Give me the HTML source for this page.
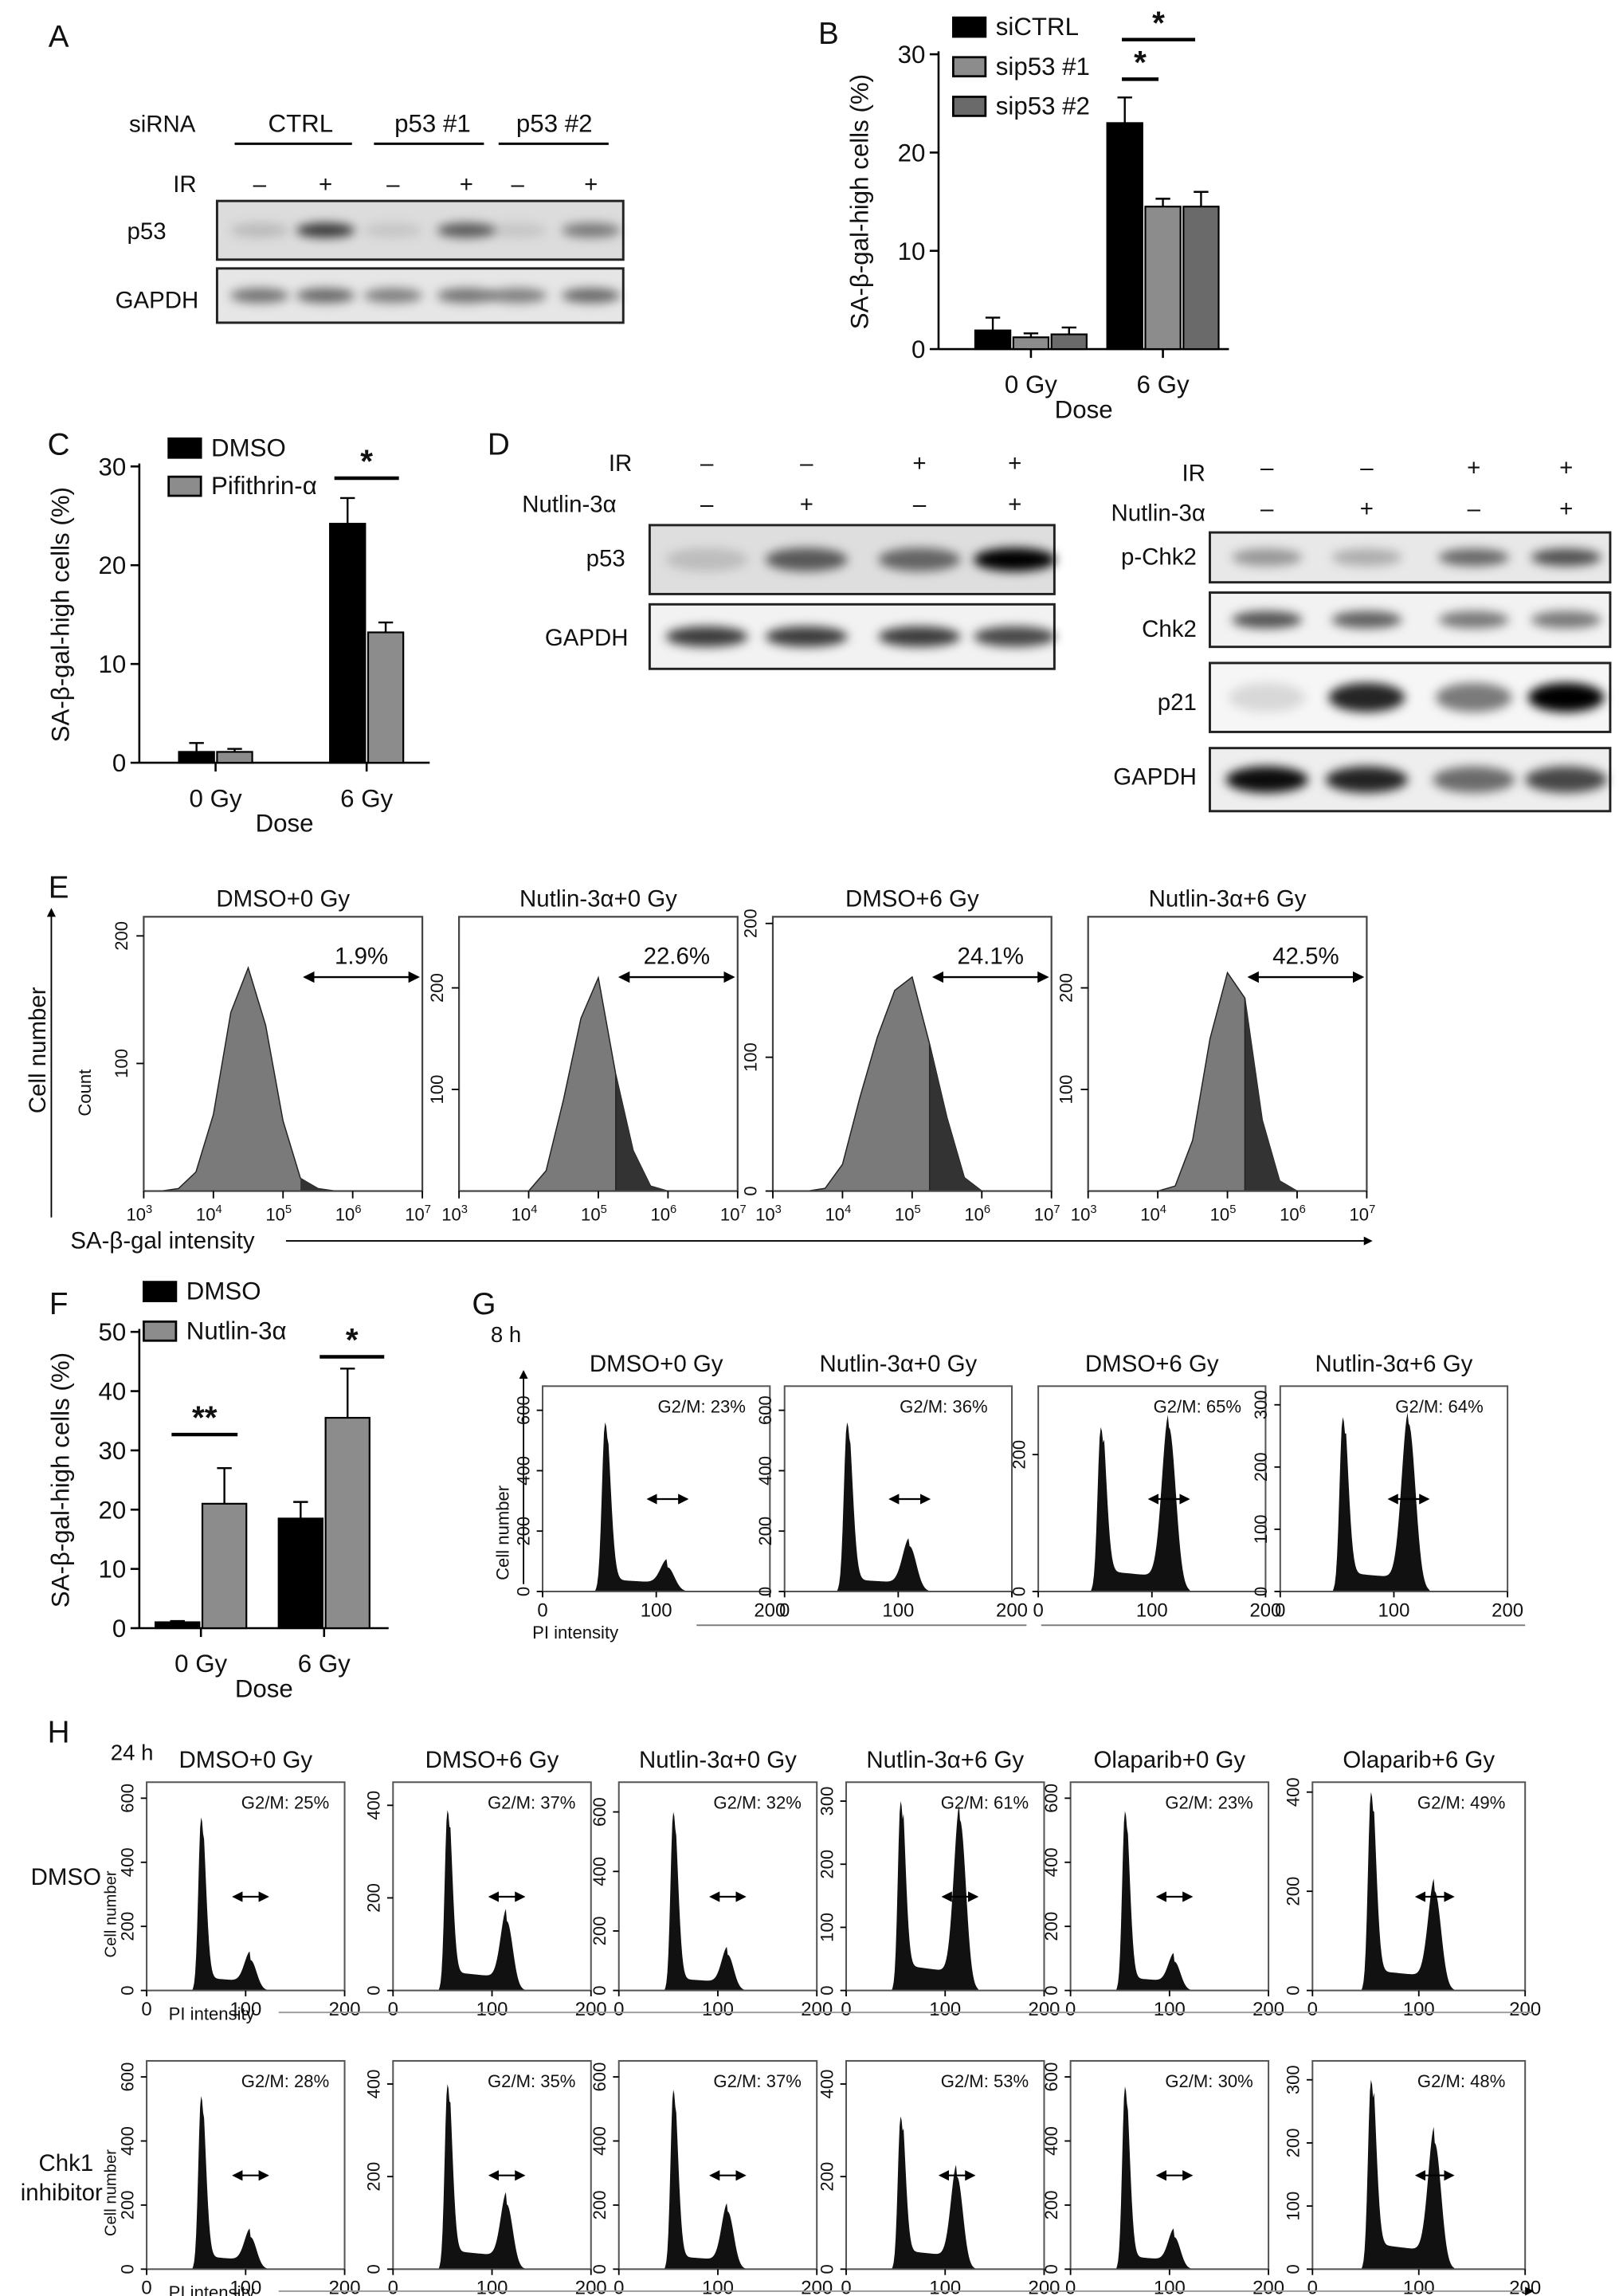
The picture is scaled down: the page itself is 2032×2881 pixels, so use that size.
<!DOCTYPE html>
<html><head><meta charset="utf-8">
<style>
html,body{margin:0;padding:0;background:#fff;}
svg{display:block;font-family:"Liberation Sans",sans-serif;}
</style></head>
<body>
<svg id="fig" xmlns="http://www.w3.org/2000/svg" width="2032" height="2881" viewBox="0 0 1104 1565.3">
<defs>
<filter id="blur" x="-30%" y="-80%" width="160%" height="260%"><feGaussianBlur stdDeviation="3.5"/></filter>
<marker id="ah" markerWidth="6" markerHeight="6" refX="5" refY="3" orient="auto-start-reverse"><path d="M0,0L6,3L0,6z" fill="#000"/></marker>
</defs>
</svg>
<script>
// ---------- DATA ----------
const barCats = ['0 Gy','6 Gy'];
const bSiCTRL = [1.9, 23];     const bSiCTRLErr = [1.3, 2.6];
const bSip1   = [1.2, 14.5];   const bSip1Err   = [0.4, 0.8];
const bSip2   = [1.5, 14.5];   const bSip2Err   = [0.7, 1.5];
const bTicks  = [0,10,20,30];
const cDMSO = [1.1, 24.2];     const cDMSOErr = [0.9, 2.6];
const cPif  = [1.1, 13.2];     const cPifErr  = [0.3, 1.0];
const cTicks = [0,10,20,30];
const fDMSO = [1, 18.5];       const fDMSOErr = [0.2, 2.8];
const fNut  = [21, 35.5];      const fNutErr  = [6, 8.3];
const fTicks = [0,10,20,30,40,50];

const eTitles = ['DMSO+0 Gy','Nutlin-3\u03b1+0 Gy','DMSO+6 Gy','Nutlin-3\u03b1+6 Gy'];
const ePct = ['1.9%','22.6%','24.1%','42.5%'];
const eBins = [3,3.25,3.5,3.75,4,4.25,4.5,4.75,5,5.25,5.5,5.75,6,6.25,6.5,6.75,7];
const eHist1 = [0,0,2,15,60,140,175,130,55,10,2,0,0,0,0,0,0];
const eHist2 = [0,0,0,0,0,20,90,170,210,115,40,5,0,0,0,0,0];
const eHist3 = [0,0,0,2,20,70,115,150,160,110,55,10,0,0,0,0,0];
const eHist4 = [0,0,0,0,0,5,50,150,215,190,70,10,0,0,0,0,0];
const eYmax = [215,270,205,270];
const eYTicks = [[100,200],[100,200],[0,100,200],[100,200]];

const gTitles = ['DMSO+0 Gy','Nutlin-3\u03b1+0 Gy','DMSO+6 Gy','Nutlin-3\u03b1+6 Gy'];
const gPct = ['23%','36%','65%','64%'];
const gG1 = [560,560,240,280];
const gG2 = [80,150,240,270];
const gS  = [40,40,30,30];
const gG2pos = [110,110,115,113];
const gYmax = [680,680,300,330];
const gYTicks = [[0,200,400,600],[0,200,400,600],[0,200],[0,100,200,300]];

const hTitles = ['DMSO+0 Gy','DMSO+6 Gy','Nutlin-3\u03b1+0 Gy','Nutlin-3\u03b1+6 Gy','Olaparib+0 Gy','Olaparib+6 Gy'];
const hPct1 = ['25%','37%','32%','61%','23%','49%'];
const hPct2 = ['28%','35%','37%','53%','30%','48%'];
const hG1a = [540,390,600,300,560,400];
const hG2a = [95,150,120,270,90,200];
const hG2posA = [105,115,110,115,105,115];
const hYmaxA = [650,450,700,330,650,420];
const hTicksA = [[0,200,400,600],[0,200,400],[0,200,400,600],[0,100,200,300],[0,200,400,600],[0,200,400]];
const hG1b = [540,400,560,330,570,300];
const hG2b = [100,140,180,200,100,200];
const hG2posB = [105,115,110,112,105,115];
const hYmaxB = [650,450,650,450,650,330];
const hTicksB = [[0,200,400,600],[0,200,400],[0,200,400,600],[0,200,400],[0,200,400,600],[0,100,200,300]];

// ---------- HELPERS ----------
const NS='http://www.w3.org/2000/svg';
const svg=document.getElementById('fig');
function el(tag,attrs,parent){const e=document.createElementNS(NS,tag);for(const k in attrs)e.setAttribute(k,attrs[k]);(parent||svg).appendChild(e);return e;}
function T(x,y,s,size,anchor,extra){const e=el('text',Object.assign({x:x,y:y,'font-size':size||14,'text-anchor':anchor||'start',fill:'#111'},extra||{}));e.textContent=s;


return e;}
function L(x1,y1,x2,y2,w,extra){const e=el('line',Object.assign({x1:x1,y1:y1,x2:x2,y2:y2,stroke:'#000','stroke-width':w||1},extra||{}));


return e;}
function R(x,y,w,h,fill,extra){const e=el('rect',Object.assign({x:x,y:y,width:w,height:h,fill:fill},extra||{}));


return e;}
function VT(x,y,s,size){const e=T(0,0,s,size,'middle',{transform:'translate('+x+','+y+') rotate(-90)'});return e;}

// panel letters
[['A',40,32],['B',565,30],['C',40,310],['D',340,310],['E',40,612],['F',40,896],['G',330,896],['H',40,1188]].forEach(p=>{
 const t=T(p[1],p[2],p[0],21,'middle');
 
});

// ---------- BAR CHARTS ----------
function barChart(o){
 const y=v=>o.y0-(v/o.max)*(o.y0-o.yTop);
 L(o.x0,o.yTop-2,o.x0,o.y0,1.4);
 L(o.x0,o.y0,o.xEnd,o.y0,1.4);
 o.ticks.forEach(t=>{L(o.x0-6,y(t),o.x0,y(t),1.4);const lb=T(o.x0-9,y(t)+6,String(t),17,'end');
 });
 o.cats.forEach((c,i)=>{const lb=T(o.centres[i],o.y0+30,c,17,'middle');
 
 L(o.centres[i],o.y0,o.centres[i],o.y0+6,1.4);});
 const d=T((o.x0+o.xEnd)/2,o.y0+47,'Dose',17,'middle');
 
 const yt=VT(o.x0-48,(o.y0+o.yTop)/2,'SA-\u03b2-gal-high cells (%)',17);
 
 const n=o.series.length;
 o.series.forEach((s,si)=>{
  s.vals.forEach((v,i)=>{
   const bx=o.centres[i]-(n*o.bw+(n-1)*2)/2+si*(o.bw+2);
   const top=y(v);
   const b=R(bx,top,o.bw,o.y0-top,s.color,{stroke:'#000','stroke-width':1.2});
   
   const ey=y(v+s.err[i]);
   L(bx+o.bw/2,top,bx+o.bw/2,ey,1.3);
   L(bx+o.bw/2-5,ey,bx+o.bw/2+5,ey,1.3);
  });
 });
}
barChart({x0:640,y0:238,yTop:37,max:30,xEnd:838,ticks:bTicks,cats:barCats,centres:[703,793],bw:24,
 series:[{key:'sictrl',vals:bSiCTRL,err:bSiCTRLErr,color:'#000'},{key:'sip53-1',vals:bSip1,err:bSip1Err,color:'#8c8c8c'},{key:'sip53-2',vals:bSip2,err:bSip2Err,color:'#6a6a6a'}]});
barChart({x0:95,y0:520,yTop:318,max:30,xEnd:293,ticks:cTicks,cats:barCats,centres:[147,250],bw:24,
 series:[{key:'dmso',vals:cDMSO,err:cDMSOErr,color:'#000'},{key:'pifithrin',vals:cPif,err:cPifErr,color:'#8c8c8c'}]});
barChart({x0:95,y0:1110,yTop:908,max:50,xEnd:265,ticks:fTicks,cats:barCats,centres:[137,221],bw:30,
 series:[{key:'dmso',vals:fDMSO,err:fDMSOErr,color:'#000'},{key:'nutlin',vals:fNut,err:fNutErr,color:'#8c8c8c'}]});

// legends
function legend(x,y,items,gap){items.forEach((it,i)=>{const r=R(x,y+i*gap-12,22,13,it[1],{stroke:'#000','stroke-width':1.5});
 
 const t=T(x+29,y+i*gap,it[0],17);
 });}
legend(650,24,[['siCTRL','#000'],['sip53 #1','#8c8c8c'],['sip53 #2','#6a6a6a']],27);
legend(115,311,[['DMSO','#000'],['Pifithrin-\u03b1','#8c8c8c']],26);
legend(98,886,[['DMSO','#000'],['Nutlin-3\u03b1','#8c8c8c']],27);
// significance
function sig(x1,x2,y,s){L(x1,y,x2,y,2.4);const t=T((x1+x2)/2,y-4,s,22,'middle',{'font-weight':'bold'});
 }
sig(765,815,27,'*');sig(765,790,54,'*');
sig(228,272,326,'*');
sig(117,162,978,'**');sig(218,262,925,'*');

// ---------- WESTERN BLOTS ----------
function blot(x,y,w,h,lanes,dark,name,bg,bw,bh){
 const g=el('g',{});
 
 
 el('rect',{x:x,y:y,width:w,height:h,fill:bg||'#eaeaea',stroke:'#222','stroke-width':1.6},g);
 lanes.forEach((lx,i)=>{ if(dark[i]>0){
  el('ellipse',{cx:lx,cy:y+h/2,rx:bw||24,ry:(bh||6),fill:'#000','fill-opacity':dark[i],filter:'url(#blur)'},g);}});
}
// Panel A
T(88,90,'siRNA',16,'start');
[['CTRL',205,160,240],['p53 #1',295,255,330],['p53 #2',378,340,415]].forEach(a=>{T(a[1],90,a[0],17,'middle');L(a[2],98,a[3],98,1.6);});
T(118,131,'IR',16,'start');
const aLanes=[177,222,268,318,353,403];
['\u2013','+','\u2013','+','\u2013','+'].forEach((s,i)=>T(aLanes[i],131,s,16,'middle'));
T(100,163,'p53',16,'middle');T(107,210,'GAPDH',16,'middle');
blot(148,137,277,40,aLanes,[0.15,0.75,0.1,0.6,0.1,0.45],'p53-blot-a','#dcdcdc',20,5);
blot(148,183,277,37,aLanes,[0.5,0.55,0.45,0.5,0.45,0.55],'gapdh-blot-a','#e6e6e6',20,5);
// Panel D left
T(415,321,'IR',16,'start');T(356,349,'Nutlin-3\u03b1',16,'start');
const dL=[482,550,627,692];
['\u2013','\u2013','+','+'].forEach((s,i)=>T(dL[i],321,s,16,'middle'));
['\u2013','+','\u2013','+'].forEach((s,i)=>T(dL[i],349,s,16,'middle'));
T(413,386,'p53',16,'middle');T(400,440,'GAPDH',16,'middle');
blot(443,358,276,47,dL,[0.15,0.6,0.55,1.0],'p53-blot-d','#dedede',28,8);
blot(443,412,276,44,dL,[0.75,0.75,0.75,0.7],'gapdh-blot-d','#f2f2f2',28,7);
// Panel D right
T(822,328,'IR',16,'end');T(822,355,'Nutlin-3\u03b1',16,'end');
const dR=[864,932,1005,1068];
['\u2013','\u2013','+','+'].forEach((s,i)=>T(dR[i],324,s,16,'middle'));
['\u2013','+','\u2013','+'].forEach((s,i)=>T(dR[i],352,s,16,'middle'));
T(816,385,'p-Chk2',16,'end');
T(816,434,'Chk2',16,'end');
T(816,484,'p21',16,'end');
T(816,535,'GAPDH',16,'end');
blot(825,363,273,34,dR,[0.35,0.25,0.55,0.65],'pchk2-blot','#e8e8e8',24,6);
blot(825,404,273,37,dR,[0.65,0.6,0.5,0.5],'chk2-blot','#f2f2f2',24,6);
blot(825,452,273,47,dR,[0.12,0.85,0.5,1.0],'p21-blot','#f6f6f6',26,10);
blot(825,510,273,43,dR,[0.95,0.85,0.55,0.7],'gapdh-blot-d2','#eeeeee',28,9);

// ---------- PANEL E ----------
L(35,830,35,620,1,{'marker-end':'url(#ah)'});
VT(31,716,'Cell number',16);
L(195,846,935,846,1,{'marker-end':'url(#ah)'});
T(48,851,'SA-\u03b2-gal intensity',16,'start');
const eHists=[eHist1,eHist2,eHist3,eHist4];
const eBoxX=[98,313,527,742];
const eThresh=[5.25,5.25,5.25,5.25];
eBoxX.forEach((bx,p)=>{
 const w=190,top=625,bot=812;
 const xs=v=>bx+(v-3)/4*w;
 const ys=c=>bot-c/eYmax[p]*(bot-top);
 T(bx+w/2,618,eTitles[p],16,'middle');
 let d='M'+xs(eBins[0])+','+bot;
 eBins.forEach((b,i)=>{d+='L'+xs(b)+','+ys(eHists[p][i]);});
 d+='L'+xs(7)+','+bot+'Z';
 const cp='clipE'+p;
 const c=el('clipPath',{id:cp});el('rect',{x:xs(eThresh[p]),y:top,width:bx+w-xs(eThresh[p]),height:bot-top},c);
 const h1=el('path',{d:d,fill:'#7a7a7a',stroke:'#222','stroke-width':0.8});
 
 
 el('path',{d:d,fill:'#333','clip-path':'url(#'+cp+')'});
 if(p>0)L(xs(eThresh[p]),bot,xs(eThresh[p]),ys(eHists[p][9]),0.8,{stroke:'#222'});
 R(bx,top,w,bot-top,'none',{stroke:'#444','stroke-width':1.2});
 [3,4,5,6,7].forEach(e=>{L(xs(e),bot,xs(e),bot+5,1);
  const t=T(xs(e)-3,bot+20,'10',12,'middle');const s=el('tspan',{dy:-5,'font-size':8},t);s.textContent=String(e);});
 eYTicks[p].forEach(v=>{L(bx-5,ys(v),bx,ys(v),1);VT(bx-11,ys(v),String(v),12);});
 const ay=ys(eYmax[p]*0.78);
 L(xs(eThresh[p])+3,ay,bx+w-3,ay,1.3,{'marker-start':'url(#ah)','marker-end':'url(#ah)'});
 T((xs(eThresh[p])+bx+w)/2,ay-9,ePct[p],16,'middle');
});
VT(62,745,'Count',12);

// ---------- CELL CYCLE ----------
function cycle(bx,top,w,bot,g1,g2,s,g2pos,ymax,ticks,title,pct,name){
 const xs=v=>bx+v/200*w;
 const ys=c=>bot-Math.min(c,ymax)/ymax*(bot-top);
 const pts=[];
 for(let v=40;v<=140;v+=1){
  let c=g1*Math.exp(-Math.pow((v-55)/(v<55?2.8:4.5),2)/2)+g2*Math.exp(-Math.pow((v-g2pos)/6,2)/2);
  if(v>57&&v<g2pos)c+=s*(1-0.3*(v-57)/(g2pos-57));
  if(v<47||v>g2pos+18)c=Math.max(0,c-3);
  pts.push(xs(v)+','+ys(c));
 }
 const pa=el('path',{d:'M'+xs(40)+','+bot+'L'+pts.join('L')+'L'+xs(140)+','+bot+'Z',fill:'#111'});
 
 
 R(bx,top,w,bot-top,'none',{stroke:'#555','stroke-width':1.1});
 [0,100,200].forEach(v=>{L(xs(v),bot,xs(v),bot+4,1);T(xs(v),bot+17,String(v),13,'middle');});
 ticks.forEach(v=>{L(bx-4,ys(v),bx,ys(v),1);VT(bx-9,ys(v),String(v),12);});
 if(title){T(bx+w/2,top-10,title,16,'middle');}
 T(bx+w*0.7,top+18,'G2/M: '+pct,12,'middle');
 const ay=ys(ymax*0.45);
 L(xs(g2pos-17),ay,xs(g2pos+17),ay,1.2,{'marker-start':'url(#ah)','marker-end':'url(#ah)'});
}
T(345,915,'8 h',15,'middle');
L(357,1080,357,935,1,{'marker-end':'url(#ah)'});
VT(347,1045,'Cell number',12);
const gX=[370,535,708,873];
gX.forEach((bx,p)=>cycle(bx,945,155,1085,gG1[p],gG2[p],gS[p],gG2pos[p],gYmax[p],gYTicks[p],gTitles[p],gPct[p],'cycle-g-'+p));
T(363,1117,'PI intensity',12,'start');
L(475,1108,700,1108,1,{stroke:'#777'});L(710,1108,1040,1108,1,{stroke:'#777'});

T(90,1200,'24 h',15,'middle');
T(45,1285,'DMSO',16,'middle');
T(45,1480,'Chk1',16,'middle');T(42,1500,'inhibitor',16,'middle');
const hX=[100,268,422,577,730,895];
const hW=[135,135,135,135,135,145];
hX.forEach((bx,p)=>{
 cycle(bx,1215,hW[p],1357,hG1a[p],hG2a[p],40,hG2posA[p],hYmaxA[p],hTicksA[p],hTitles[p],hPct1[p],'cycle-h1-'+p);
 cycle(bx,1405,hW[p],1547,hG1b[p],hG2b[p],40,hG2posB[p],hYmaxB[p],hTicksB[p],null,hPct2[p],'cycle-h2-'+p);
});
VT(79,1305,'Cell number',11);VT(79,1495,'Cell number',11);
T(115,1377,'PI intensity',12,'start');T(115,1567,'PI intensity',12,'start');
L(190,1372,1045,1372,1,{stroke:'#999'});
L(190,1562,1045,1562,1,{stroke:'#999','marker-end':'url(#ah)'});
</script>
</body></html>
